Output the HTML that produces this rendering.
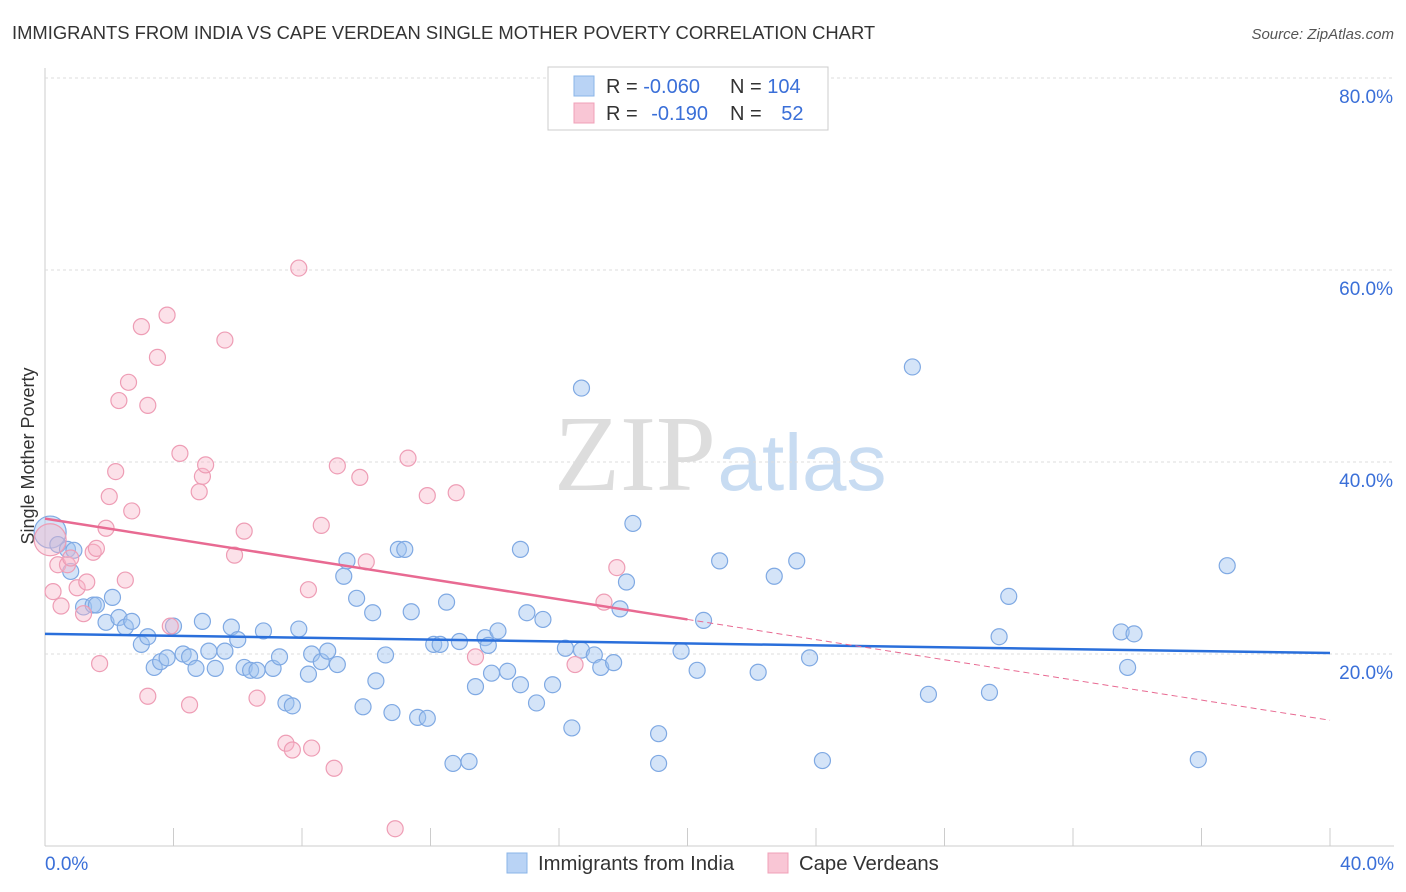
<!DOCTYPE html>
<html><head><meta charset="utf-8">
<style>
body{margin:0;background:#fff;font-family:"Liberation Sans",sans-serif;}
svg{display:block}
</style></head>
<body>
<svg id="chart" width="1406" height="892">
<text x="12" y="39" font-size="18.4" fill="#333">IMMIGRANTS FROM INDIA VS CAPE VERDEAN SINGLE MOTHER POVERTY CORRELATION CHART</text>
<text x="1394" y="39" font-size="15" fill="#555" font-style="italic" text-anchor="end">Source: ZipAtlas.com</text>
<text x="34" y="456" font-size="18" fill="#333" text-anchor="middle" transform="rotate(-90 34 456)">Single Mother Poverty</text>
<g>
<text x="635" y="490" font-size="108" fill="#ddd" font-family="Liberation Serif,serif" text-anchor="middle">ZIP</text>
<text x="802" y="490" font-size="80" fill="#c8dcf2" text-anchor="middle">atlas</text>
</g>
<g id="grid"></g>
<g id="pts"></g>
<g id="trend"></g>
<g>
<rect x="548" y="67" width="280" height="63" fill="#fff" stroke="#ccc"/>
<rect x="574" y="76" width="20" height="20" fill="#b9d3f5" stroke="#8ab4e8"/>
<rect x="574" y="103" width="20" height="20" fill="#f9c6d5" stroke="#f0a0b8"/>
<text x="606" y="93" font-size="20" fill="#333">R = <tspan fill="#3a6fd8">-0.060</tspan></text>
<text x="730" y="93" font-size="20" fill="#333">N = <tspan fill="#3a6fd8">104</tspan></text>
<text x="606" y="120" font-size="20" fill="#333">R = <tspan fill="#3a6fd8" dx="8">-0.190</tspan></text>
<text x="730" y="120" font-size="20" fill="#333">N = <tspan fill="#3a6fd8" dx="14">52</tspan></text>
</g>
<g>
<rect x="507" y="853" width="20" height="20" fill="#b9d3f5" stroke="#8ab4e8"/>
<text x="538" y="870" font-size="20.3" fill="#333">Immigrants from India</text>
<rect x="768" y="853" width="20" height="20" fill="#f9c6d5" stroke="#f0a0b8"/>
<text x="799" y="870" font-size="20.3" fill="#333">Cape Verdeans</text>
</g>
</svg>
<script>
const yTicks=[20,40,60,80];
const yTickLabels=["20.0%","40.0%","60.0%","80.0%"];
const xTicks=[0,4,8,12,16,20,24,28,32,36,40];
const xEndLabels=["0.0%","40.0%"];
const indiaX=[0.16,0.4,0.7,0.8,0.9,1.2,1.5,1.6,1.9,2.1,2.3,2.5,2.7,3.0,3.2,3.4,3.6,3.8,4.0,4.3,4.5,4.7,4.9,5.1,5.3,5.6,5.8,6.0,6.2,6.4,6.6,6.8,7.1,7.3,7.5,7.7,7.9,8.2,8.3,8.6,8.8,9.1,9.3,9.4,9.7,9.9,10.2,10.3,10.6,10.8,11.0,11.2,11.4,11.6,11.9,12.5,12.1,12.3,12.7,12.9,13.2,13.4,13.7,13.8,13.9,14.1,14.4,14.8,14.8,15.0,15.3,15.5,15.8,16.2,16.4,16.7,16.7,17.1,17.3,17.7,17.9,18.1,18.3,19.1,19.1,19.8,20.3,20.5,21.0,22.2,22.7,23.4,23.8,24.2,27.0,27.5,29.4,29.7,30.0,33.5,33.7,33.9,35.9,36.8];
const indiaY=[32.7,31.4,30.9,28.6,30.8,24.9,25.1,25.1,23.3,25.9,23.8,22.8,23.4,21.0,21.8,18.6,19.2,19.6,22.9,20.0,19.7,18.5,23.4,20.3,18.5,20.3,22.8,21.5,18.6,18.3,18.3,22.4,18.5,19.7,14.9,14.6,22.6,17.9,20.0,19.2,20.3,18.9,28.1,29.7,25.8,14.5,24.3,17.2,19.9,13.9,30.9,30.9,24.4,13.4,13.3,25.4,21.0,21.0,8.6,21.3,8.8,16.6,21.7,20.9,18.0,22.4,18.2,30.9,16.8,24.3,14.9,23.6,16.8,20.6,12.3,20.4,47.7,19.9,18.6,19.1,24.7,27.5,33.6,8.6,11.7,20.3,18.3,23.5,29.7,18.1,28.1,29.7,19.6,8.9,49.9,15.8,16.0,21.8,26.0,22.3,18.6,22.1,9.0,29.2];
const capeX=[0.16,0.25,0.4,0.5,0.7,0.8,1.0,1.2,1.3,1.5,1.6,1.7,1.9,2.0,2.2,2.3,2.5,2.6,2.7,3.0,3.2,3.2,3.5,3.8,3.9,4.2,4.5,4.8,4.9,5.0,5.6,5.9,6.2,6.6,7.5,7.7,7.9,8.2,8.3,8.6,9.0,9.1,9.8,10.0,10.9,11.3,11.9,12.8,13.4,16.5,17.4,17.8];
const capeY=[31.9,26.5,29.3,25.0,29.3,30.0,26.9,24.2,27.5,30.6,31.0,19.0,33.1,36.4,39.0,46.4,27.7,48.3,34.9,54.1,15.6,45.9,50.9,55.3,22.9,40.9,14.7,36.9,38.5,39.7,52.7,30.3,32.8,15.4,10.7,10.0,60.2,26.7,10.2,33.4,8.1,39.6,38.4,29.6,1.8,40.4,36.5,36.8,19.7,18.9,25.4,29.0];
const indiaTrend=[22.1,20.1];
const capeTrend=[34.1,13.1];
const capeSolidEnd=20;

const NS="http://www.w3.org/2000/svg";
const X0=45,X1=1330,Y0=846,PX=(X1-X0)/40,PY=9.6;
const sx=v=>X0+v*PX, sy=v=>Y0-v*PY;
function mk(tag,attrs,parent){const e=document.createElementNS(NS,tag);for(const k in attrs)e.setAttribute(k,attrs[k]);parent.appendChild(e);return e;}
const grid=document.getElementById('grid');
let ax=mk('line',{x1:X0,y1:68,x2:X0,y2:Y0,stroke:'#ccc'},grid);


let bx=mk('line',{x1:X0,y1:Y0,x2:1394,y2:Y0,stroke:'#ccc'},grid);


yTicks.forEach((t,i)=>{
 const g=mk('line',{x1:X0,y1:sy(t),x2:1394,y2:sy(t),stroke:'#ddd','stroke-dasharray':'3,3'},grid);
 
 
 const l=mk('text',{x:1393,y:sy(t)+25,'font-size':19,fill:'#3a6fd8','text-anchor':'end'},grid);
 l.textContent=yTickLabels[i];
 
 
});
xTicks.forEach(t=>{
 const k=mk('line',{x1:sx(t),y1:Y0-18,x2:sx(t),y2:Y0,stroke:'#ccc'},grid);
 
 
});
[[0,'start',45],[40,'end',1394]].forEach((a,i)=>{
 const l=mk('text',{x:a[2],y:870,'font-size':19,fill:'#3a6fd8','text-anchor':a[1]},grid);
 l.textContent=xEndLabels[i];
 
 
});
const pts=document.getElementById('pts');
function draw(xs,ys,fill,stroke,name){
 xs.forEach((x,i)=>{
  const r=(i===0)?16:8;
  const c=mk('circle',{cx:sx(x),cy:sy(ys[i]),r:r,fill:fill,stroke:stroke,'stroke-width':1.2},pts);
  
  
 });
}
draw(indiaX,indiaY,'rgba(160,196,240,0.45)','#7fa9e3','india-point');
draw(capeX,capeY,'rgba(248,180,200,0.4)','#ee9db5','cape-verdean-point');
const tr=document.getElementById('trend');
let l1=mk('line',{x1:sx(0),y1:sy(indiaTrend[0]),x2:sx(40),y2:sy(indiaTrend[1]),stroke:'#2a6fdb','stroke-width':2.5},tr);


const cy=v=>capeTrend[0]+(capeTrend[1]-capeTrend[0])*v/40;
let l2=mk('line',{x1:sx(0),y1:sy(cy(0)),x2:sx(capeSolidEnd),y2:sy(cy(capeSolidEnd)),stroke:'#e86a92','stroke-width':2.5},tr);


let l3=mk('line',{x1:sx(capeSolidEnd),y1:sy(cy(capeSolidEnd)),x2:sx(40),y2:sy(cy(40)),stroke:'#e86a92','stroke-width':1,'stroke-dasharray':'6,4'},tr);


</script>
</body></html>
